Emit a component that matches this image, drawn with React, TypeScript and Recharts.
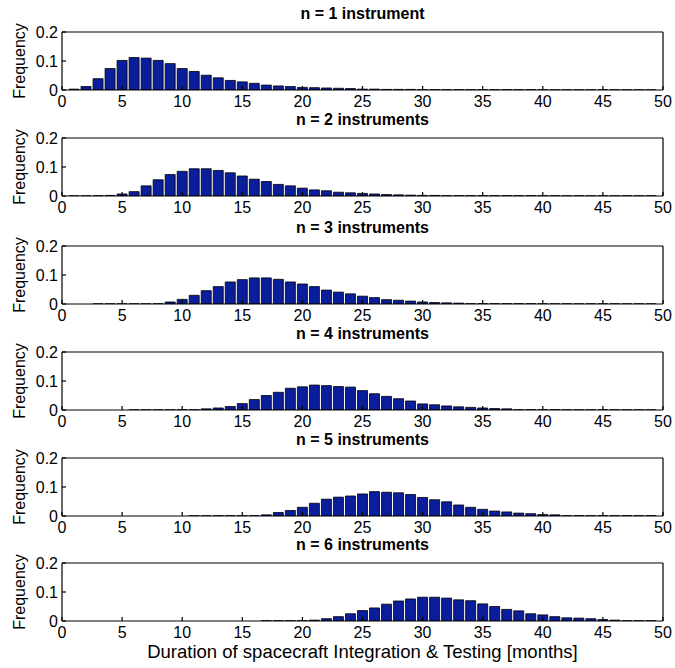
import React from "react";
import { BarChart, Bar, XAxis, YAxis } from "recharts";

// histogram bins (months)
const months = [
  1, 2, 3, 4, 5, 6, 7, 8, 9, 10, 11, 12, 13, 14, 15, 16, 17, 18, 19, 20, 21, 22, 23, 24, 25,
  26, 27, 28, 29, 30, 31, 32, 33, 34, 35, 36, 37, 38, 39, 40, 41, 42, 43, 44, 45, 46, 47, 48, 49,
];
const xTicks = [0, 5, 10, 15, 20, 25, 30, 35, 40, 45, 50];
const yTicks = [0, 0.1, 0.2];

const titles = [
  "n = 1 instrument",
  "n = 2 instruments",
  "n = 3 instruments",
  "n = 4 instruments",
  "n = 5 instruments",
  "n = 6 instruments",
];

const freqN1 = [
  0.003, 0.012, 0.039, 0.074, 0.102, 0.112, 0.11, 0.102, 0.091, 0.074, 0.064, 0.051, 0.042, 0.033, 0.028,
  0.023, 0.017, 0.014, 0.012, 0.009, 0.008, 0.007, 0.006, 0.005, 0.003, 0.003, 0.002, 0.002, 0.002, 0.001,
  0.001, 0.001, 0.001, 0.001, 0.001, 0.001, 0.001, 0.001, 0.001, 0.001, 0.0005, 0.0005, 0.0005, 0.0005,
  0.0005, 0.0005, 0.0005, 0.0005, 0.0005,
];
const freqN2 = [
  0.0005, 0.0005, 0.001, 0.002, 0.007, 0.015, 0.035, 0.056, 0.074, 0.085, 0.094, 0.094, 0.088, 0.08, 0.069,
  0.058, 0.05, 0.04, 0.035, 0.027, 0.021, 0.018, 0.013, 0.011, 0.009, 0.007, 0.005, 0.004, 0.003, 0.002,
  0.002, 0.001, 0.001, 0.001, 0.001, 0.001, 0.001, 0.001, 0.001, 0.001, 0.0005, 0.0005, 0.0005, 0.0005,
  0.0005, 0.0005, 0.0005, 0.0005, 0.0005,
];
const freqN3 = [
  0, 0, 0.0005, 0.0005, 0.0005, 0.0005, 0.0005, 0.001, 0.007, 0.016, 0.03, 0.046, 0.06, 0.076, 0.084,
  0.09, 0.09, 0.085, 0.076, 0.069, 0.06, 0.048, 0.041, 0.035, 0.027, 0.022, 0.015, 0.013, 0.01, 0.007,
  0.005, 0.004, 0.003, 0.001, 0.001, 0.001, 0.001, 0.001, 0.001, 0.0005, 0.0005, 0.0005, 0.0005, 0.0005,
  0.0005, 0.0005, 0.0005, 0.0005, 0.0005,
];
const freqN4 = [
  0, 0, 0, 0, 0, 0.0005, 0.0005, 0.0005, 0.0005, 0.001, 0.001, 0.004, 0.007, 0.012, 0.022,
  0.036, 0.05, 0.061, 0.075, 0.08, 0.086, 0.084, 0.081, 0.079, 0.067, 0.056, 0.047, 0.039, 0.031, 0.021,
  0.018, 0.014, 0.011, 0.009, 0.007, 0.005, 0.004, 0.001, 0.001, 0.001, 0.001, 0.0005, 0.0005, 0.0005,
  0.0005, 0.0005, 0.0005, 0.0005, 0.0005,
];
const freqN5 = [
  0, 0, 0, 0, 0, 0, 0, 0, 0, 0, 0.0005, 0.0005, 0.001, 0.001, 0.001,
  0.001, 0.004, 0.012, 0.019, 0.03, 0.044, 0.058, 0.065, 0.069, 0.076, 0.084, 0.082, 0.08, 0.074, 0.064,
  0.056, 0.049, 0.038, 0.03, 0.023, 0.017, 0.014, 0.01, 0.008, 0.005, 0.004, 0.001, 0.001, 0.001,
  0.001, 0.001, 0.001, 0.001, 0.001,
];
const freqN6 = [
  0, 0, 0, 0, 0, 0, 0, 0, 0, 0, 0, 0, 0, 0, 0,
  0, 0.001, 0.001, 0.001, 0.001, 0.003, 0.008, 0.015, 0.025, 0.036, 0.045, 0.058, 0.069, 0.076, 0.082,
  0.082, 0.079, 0.073, 0.07, 0.059, 0.05, 0.04, 0.035, 0.025, 0.021, 0.015, 0.011, 0.01, 0.008,
  0.005, 0.003, 0.001, 0.001, 0.001,
];
const allFreqs = [freqN1, freqN2, freqN3, freqN4, freqN5, freqN6];

const panelTops = [32, 138, 246, 352, 458, 563];

const FONT = '"Liberation Sans", Arial, Helvetica, sans-serif';
const BAR_BLUE = "#0a1d9a";

function Panel({ values, title, top }: { values: number[]; title: string; top: number }) {
  const data = months.map((m, i) => ({ month: m, freq: values[i] }));
  return (
    <>
      <div
        style={{
          position: "absolute",
          left: 62,
          width: 601,
          top: top - 26,
          textAlign: "center",
          fontFamily: FONT,
          fontWeight: "bold",
          fontSize: 16,
          lineHeight: "16px",
          color: "#000",
        }}
      >
        {title}
      </div>
      <div style={{ position: "absolute", left: 0, top: top - 12 }}>
        <BarChart width={675} height={100} data={data} margin={{ top: 11, right: 11, bottom: 0, left: 0 }} barSize={10}>
          <XAxis
            xAxisId="b"
            type="number"
            dataKey="month"
            domain={[0, 50]}
            ticks={xTicks}
            interval={0}
            tickSize={-4}
            tickMargin={10}
            height={30}
            stroke="#000"
            strokeWidth={1.2}
            tick={{ fill: "#000", fontSize: 16, fontFamily: FONT }}
            allowDataOverflow
          />
          <XAxis
            xAxisId="t"
            orientation="top"
            type="number"
            dataKey="month"
            domain={[0, 50]}
            ticks={xTicks}
            interval={0}
            tickSize={-4}
            height={1}
            stroke="#000"
            strokeWidth={1.2}
            tick={false}
            allowDataOverflow
          />
          <YAxis
            yAxisId="l"
            type="number"
            domain={[0, 0.2]}
            ticks={yTicks}
            interval={0}
            tickSize={-4}
            tickMargin={8}
            width={62}
            stroke="#000"
            strokeWidth={1.2}
            tick={{ fill: "#000", fontSize: 16, fontFamily: FONT }}
            allowDataOverflow
            label={{
              value: "Frequency",
              angle: -90,
              position: "insideLeft",
              offset: 19,
              style: { textAnchor: "middle", fill: "#000", fontSize: 16, fontFamily: FONT },
            }}
          />
          <YAxis
            yAxisId="r"
            orientation="right"
            type="number"
            domain={[0, 0.2]}
            ticks={yTicks}
            interval={0}
            tickSize={-4}
            width={1}
            stroke="#000"
            strokeWidth={1.2}
            tick={false}
            allowDataOverflow
          />
          <Bar
            xAxisId="b"
            yAxisId="l"
            dataKey="freq"
            fill={BAR_BLUE}
            stroke="#000"
            strokeWidth={0.8}
            isAnimationActive={false}
          />
        </BarChart>
      </div>
    </>
  );
}

export default function App() {
  return (
    <div style={{ position: "absolute", left: 0, top: 0, width: 675, height: 668, background: "#fff" }}>
      {allFreqs.map((vals, i) => (
        <Panel key={i} values={vals} title={titles[i]} top={panelTops[i]} />
      ))}
      <div
        style={{
          position: "absolute",
          left: 62,
          width: 601,
          top: 643,
          textAlign: "center",
          fontFamily: FONT,
          fontSize: 18.5,
          lineHeight: "18.5px",
          color: "#000",
        }}
      >
        Duration of spacecraft Integration &amp; Testing [months]
      </div>
    </div>
  );
}
